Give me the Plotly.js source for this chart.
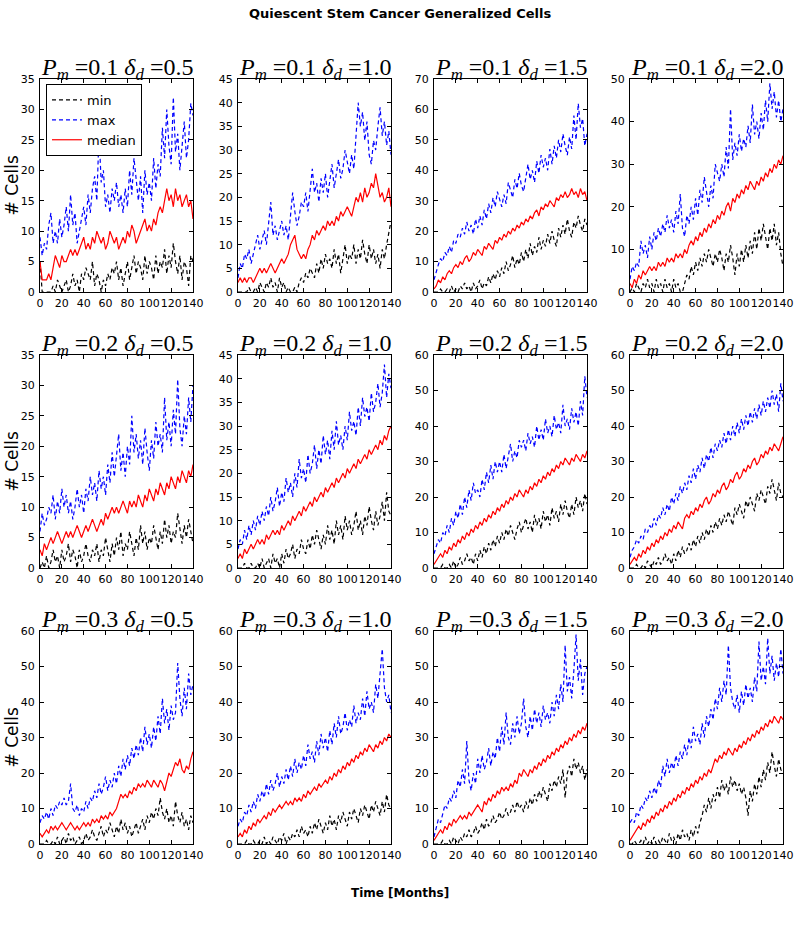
<!DOCTYPE html>
<html>
<head>
<meta charset="utf-8">
<script src="https://cdn.plot.ly/plotly-3.0.1.min.js"></script>
<style>html,body{margin:0;padding:0;background:#fff;}#chart{width:800px;height:932px;}</style>
</head>
<body>
<div id="chart"></div>
<script>
// Time axis (months)
const months = [0,2,4,6,8,10,12,14,16,18,20,22,24,26,28,30,32,34,36,38,40,42,44,46,48,50,52,54,56,58,60,62,64,66,68,70,72,74,76,78,80,82,84,86,88,90,92,94,96,98,100,102,104,106,108,110,112,114,116,118,120,122,124,126,128,130,132,134,136,138,140];
const xTickVals = [0,20,40,60,80,100,120,140];
const pmLabels = ['0.1','0.2','0.3'];
const ddLabels = ['0.5','1.0','1.5','2.0'];
const seriesNames = ['min','max','median'];

// Row 1: Pm = 0.1
const min_01_05 = [5,0,0,0,0,0,1,0,2,1, 0,1,2,0,1,3,1,2,0,3, 2,4,3,2,5,1,3,2,0,2, 1,3,2,4,3,5,2,4,1,3, 5,2,4,6,3,5,4,2,6,3, 5,4,2,6,3,5,4,7,3,6, 4,8,5,3,6,2,5,4,1,6, 5];
const max_01_05 = [9,6,8,7,11,13,8,10,8,12, 9,11,14,10,16,11,13,8,10,12, 14,11,16,13,17,19,15,26,18,20, 14,16,13,17,15,18,14,16,13,17, 14,20,16,22,18,15,19,13,20,16, 18,15,22,17,21,19,27,22,30,24, 21,32,23,26,20,24,28,22,25,31, 29];
const med_01_05 = [5,2,2,2,3,2,4,6,5,4, 6,5,5,6,7,6,7,6,7,8, 9,7,8,7,9,8,10,9,8,9, 7,8,10,9,8,9,7,8,9,8, 10,9,11,10,8,9,10,11,12,10, 11,10,12,11,13,14,13,15,17,15, 16,14,17,15,16,14,15,16,14,15, 12];

const min_01_10 = [0,0,0,0,0,1,0,0,1,0, 2,1,0,2,1,3,1,2,0,3, 1,2,0,1,0,0,1,0,2,3, 2,4,3,5,4,3,6,4,7,5, 8,6,7,5,9,6,8,4,7,10, 6,8,7,10,6,9,7,11,8,6, 10,7,9,6,8,5,9,7,10,13, 15];
const max_01_10 = [3,6,5,8,7,9,6,8,10,12, 9,11,13,10,14,19,12,14,11,13, 15,12,14,11,16,21,17,14,16,19, 18,21,17,22,26,21,23,19,24,21, 25,20,23,27,22,25,28,24,26,30, 27,25,29,26,33,40,35,38,32,36, 29,27,32,30,35,39,33,36,31,34, 29];
const med_01_10 = [2,3,2,3,2,3,3,2,3,4, 5,4,5,4,5,6,5,4,5,6, 7,6,7,8,10,11,12,9,8,7, 8,7,9,10,12,11,13,12,13,14, 13,15,14,15,14,16,15,17,16,17, 18,17,16,18,20,19,21,19,22,20, 21,23,22,25,22,20,21,19,20,22, 18];

const min_01_15 = [0,0,0,1,0,0,1,0,2,0, 1,0,2,1,3,1,2,0,3,1, 2,4,1,3,2,5,3,6,4,7, 5,8,6,10,7,9,12,8,11,9, 13,10,14,11,16,12,15,13,18,14, 17,15,19,16,20,17,15,21,18,22, 19,24,20,18,23,21,25,22,20,24, 22];
const max_01_15 = [4,7,9,11,10,13,12,15,13,17, 16,19,18,21,19,23,20,22,19,24, 21,25,22,27,24,29,26,31,28,33, 30,28,32,29,36,33,31,37,34,39, 35,33,38,42,37,40,36,43,39,45, 41,44,40,47,42,48,44,50,46,52, 48,45,51,47,58,50,62,54,57,48, 52];
const med_01_15 = [1,2,4,3,5,4,6,7,6,8, 9,8,10,9,11,12,10,11,13,12, 14,13,12,15,14,16,15,14,17,16, 18,17,19,18,20,19,21,20,22,21, 23,22,24,23,25,24,26,27,25,28, 27,29,28,30,29,28,31,30,32,31, 33,31,32,34,32,33,31,34,32,33, 30];

const min_01_20 = [0,1,0,2,1,0,2,1,3,1, 2,0,3,1,2,0,3,1,2,0, 3,1,2,0,0,2,4,3,6,4, 7,5,8,6,9,7,10,8,6,9, 7,10,8,5,9,7,11,8,4,9, 6,10,7,11,8,12,9,14,10,15, 12,16,13,10,15,12,16,11,14,9, 6];
const max_01_20 = [3,6,5,7,6,12,9,11,8,13, 10,14,12,15,13,16,14,18,15,17, 14,19,16,23,15,13,18,16,20,17, 22,18,24,21,27,23,20,25,22,30, 28,26,30,27,34,29,43,31,35,32, 37,33,36,34,39,35,44,37,40,36, 42,38,45,40,49,43,47,41,45,40, 43];
const med_01_20 = [2,1,3,2,4,3,5,4,5,6, 5,6,5,7,6,7,6,8,7,8, 7,9,8,9,8,10,9,11,12,11, 13,12,14,13,15,14,16,15,17,16, 18,17,19,18,20,21,19,22,21,23, 22,24,23,25,24,26,25,24,26,25, 27,26,28,27,29,28,30,29,31,30, 32];

// Row 2: Pm = 0.2
const min_02_05 = [0,1,0,2,0,1,3,1,2,0, 3,1,2,4,1,3,2,0,3,1, 2,4,2,1,3,2,4,1,3,2, 5,3,1,4,2,5,3,6,2,4, 3,6,4,2,5,3,7,4,6,3, 5,4,7,5,3,6,4,8,5,7, 4,6,5,9,6,4,7,5,8,6, 4];
const max_02_05 = [6,9,7,8,10,9,12,8,11,9, 13,10,12,9,11,8,10,13,10,12, 9,13,11,15,12,14,11,16,13,15, 12,17,14,19,15,18,22,16,19,15, 20,17,25,19,22,18,21,17,23,19, 16,21,18,24,20,22,19,28,21,24, 20,26,22,31,23,20,25,22,28,24, 30];
const med_02_05 = [3,2,4,3,4,5,4,5,6,5, 4,5,6,5,6,5,6,7,6,5, 6,7,6,7,8,7,6,7,8,7, 9,8,9,10,9,10,9,10,11,10, 9,11,10,11,10,12,11,10,12,11, 13,12,11,13,12,14,13,12,14,13, 15,14,13,15,14,16,15,14,16,15, 17];

const min_02_10 = [0,0,0,1,0,0,1,0,0,1, 0,2,0,1,2,0,3,1,2,0, 3,1,4,2,3,5,2,4,3,6, 4,3,6,4,7,5,8,6,4,7, 5,9,6,8,5,10,7,9,6,11, 8,10,7,9,12,8,10,7,11,9, 13,10,8,12,9,11,14,10,16,12, 11];
const max_02_10 = [4,6,5,8,6,9,7,10,8,11, 9,12,10,13,11,15,12,14,17,13, 16,14,19,16,18,15,20,17,23,19, 21,18,24,20,22,26,21,25,22,28, 24,27,23,29,25,31,26,28,25,30, 27,33,29,31,28,34,30,36,32,34, 31,37,33,35,39,34,37,43,36,41, 38];
const med_02_10 = [2,3,2,4,3,4,5,4,5,6, 5,6,5,7,6,7,8,7,8,7, 9,8,9,10,9,11,10,11,12,11, 13,12,13,14,13,15,14,15,16,15, 17,16,17,18,17,19,18,19,20,19, 21,20,21,22,21,23,22,23,24,23, 25,24,25,26,25,27,26,28,27,29, 30];

const min_02_15 = [0,0,0,0,1,0,0,1,0,2, 0,1,3,1,2,4,2,3,1,4, 2,5,3,6,4,7,5,8,6,9, 7,10,8,11,9,12,10,8,11,13, 10,12,14,11,13,10,15,12,14,11, 16,13,15,12,17,14,16,13,18,15, 19,16,14,18,15,20,17,19,16,21, 18];
const max_02_15 = [4,6,8,7,10,9,12,10,14,12, 16,14,18,15,20,17,22,19,24,21, 22,20,25,22,27,24,29,25,30,27, 30,27,32,28,31,35,30,33,31,36, 34,36,33,38,35,37,34,40,36,39, 36,42,38,40,37,43,39,41,38,46, 40,42,39,45,41,44,40,47,43,54, 48];
const med_02_15 = [1,2,3,4,3,5,4,6,5,7, 6,8,7,9,8,10,9,11,10,12, 11,13,12,14,13,15,14,16,15,17, 16,18,17,19,18,20,19,21,20,22, 21,20,22,21,23,22,24,23,25,24, 26,25,27,26,28,27,29,28,30,29, 31,30,29,31,30,32,31,30,32,31, 33];

const min_02_20 = [0,0,0,1,0,0,1,0,2,1, 0,2,1,3,1,2,4,2,3,1, 4,2,5,3,6,4,5,7,5,8, 6,9,7,10,8,11,9,12,10,13, 11,14,12,15,13,16,14,12,17,15, 18,16,14,19,17,20,18,16,21,19, 22,20,18,23,21,25,22,19,24,21, 20];
const max_02_20 = [3,5,6,8,7,9,8,11,10,12, 11,14,12,15,14,17,15,18,16,20, 18,21,19,23,21,24,22,26,24,28, 25,29,27,31,28,32,30,34,31,35, 33,36,34,38,35,39,36,40,37,41, 38,42,39,43,40,44,41,45,42,46, 43,47,44,48,45,50,46,49,44,52, 47];
const med_02_20 = [1,2,3,2,4,3,5,4,6,5, 7,6,8,7,9,8,10,9,11,10, 12,11,13,12,11,14,15,14,16,15, 17,16,18,17,19,20,18,19,21,20, 22,21,23,24,22,23,25,24,26,27, 25,26,28,27,29,28,30,31,29,30, 32,31,33,32,34,33,35,34,33,35, 37];

// Row 3: Pm = 0.3
const min_03_05 = [0,0,0,1,0,0,1,0,2,0, 1,2,0,3,1,2,0,1,2,0, 1,3,1,2,4,2,1,3,5,2, 4,3,6,4,2,5,3,7,4,6, 3,5,2,4,6,3,5,7,4,8, 6,9,7,10,8,13,9,7,10,6, 8,5,12,8,6,9,5,7,4,8, 6];
const max_03_05 = [6,8,7,9,7,10,8,11,10,12, 11,13,11,12,17,10,9,11,8,10, 9,12,10,13,12,15,13,17,14,16, 19,15,18,16,20,17,22,19,24,21, 25,22,27,24,28,25,30,26,33,28, 31,27,33,29,36,31,41,34,38,32, 39,35,37,51,41,36,44,38,48,42, 45];
const med_03_05 = [3,2,3,4,3,5,4,5,4,5, 6,5,4,5,6,5,4,5,4,5, 6,5,6,5,7,6,7,6,8,7, 8,7,9,8,9,10,12,14,13,14, 13,15,14,16,15,17,16,17,16,18, 17,16,18,17,16,18,17,15,18,20, 19,21,23,22,24,21,20,22,21,24, 26];

const min_03_10 = [0,0,0,0,1,0,0,1,0,0, 1,0,2,0,1,0,2,1,0,2, 1,3,0,2,1,3,2,4,2,5, 3,4,2,5,3,6,4,7,5,3, 6,4,8,5,7,4,8,6,9,7, 5,9,7,10,8,6,10,8,11,9, 7,11,9,12,10,8,12,9,14,11, 10];
const max_03_10 = [5,7,6,9,8,11,9,12,10,14, 12,15,13,17,14,18,15,17,20,16, 19,17,21,18,22,19,24,20,23,21, 25,22,28,24,26,23,29,25,31,27, 30,26,32,28,34,30,36,31,33,37, 32,35,33,39,34,37,35,41,36,43, 38,40,37,45,41,48,55,44,40,42, 37];
const med_03_10 = [2,3,2,4,3,5,4,6,5,7, 6,7,8,7,9,8,10,9,10,11, 10,11,12,11,12,11,13,12,13,12, 14,13,15,14,15,16,15,17,16,17, 18,17,19,18,20,19,21,20,22,21, 23,22,24,23,25,24,26,25,27,26, 28,27,26,28,27,29,28,30,29,31, 30];

const min_03_15 = [0,0,0,0,1,0,0,1,0,2, 1,0,2,1,3,2,4,2,3,5, 3,4,6,4,7,5,6,8,6,7, 9,7,8,10,8,9,11,9,12,10, 11,9,12,10,13,11,14,12,15,13, 16,14,12,17,15,18,16,19,17,21, 13,20,22,19,24,21,23,20,22,18, 21];
const max_03_15 = [2,5,7,6,9,11,10,13,12,15, 13,18,16,21,17,29,18,15,20,17, 24,20,25,21,23,27,22,26,24,30, 26,33,28,37,30,28,34,30,36,31, 34,41,33,30,36,32,38,34,37,33, 39,35,37,34,40,36,42,38,45,40, 56,43,47,41,49,59,46,52,42,48, 50];
const med_03_15 = [1,2,3,4,3,5,4,6,5,7, 6,7,8,7,8,7,9,8,9,10, 11,10,9,12,11,13,12,14,13,15, 14,16,15,16,15,17,16,18,17,20, 19,21,20,19,21,20,22,21,23,22, 24,23,25,24,26,25,27,26,28,27, 29,28,30,29,31,30,32,31,33,32, 34];

const min_03_20 = [0,0,1,0,0,1,0,2,0,1, 0,2,0,1,0,2,1,0,3,1, 2,0,3,1,4,2,3,1,4,2, 5,3,6,8,11,9,13,10,14,12, 16,13,18,15,17,14,19,16,18,15, 17,14,16,13,8,15,12,17,14,19, 16,21,18,23,20,26,22,19,24,21, 20];
const max_03_20 = [6,7,6,9,8,11,10,13,12,15, 13,16,14,18,16,22,19,24,20,23, 21,25,22,26,24,28,25,30,27,33, 29,31,28,34,30,36,33,38,35,41, 38,44,40,46,42,56,44,40,38,42, 37,43,39,45,41,44,40,47,43,57, 46,50,45,58,48,53,46,51,47,55, 48];
const med_03_20 = [1,2,3,4,5,4,6,5,7,6, 8,7,9,8,10,9,11,10,12,11, 13,12,14,13,15,14,16,15,17,16, 18,17,19,18,20,19,21,20,22,24, 23,25,24,26,25,27,26,25,27,26, 28,27,29,28,30,29,31,30,32,31, 33,32,34,33,35,34,36,35,34,36, 35];

// Axis ranges
const yTop  = [[35,45,70,50],[35,45,60,60],[60,60,60,60]];
const yStep = [[5,5,10,10],[5,5,10,10],[10,10,10,10]];

const panels = [
  [[min_01_05,max_01_05,med_01_05],[min_01_10,max_01_10,med_01_10],[min_01_15,max_01_15,med_01_15],[min_01_20,max_01_20,med_01_20]],
  [[min_02_05,max_02_05,med_02_05],[min_02_10,max_02_10,med_02_10],[min_02_15,max_02_15,med_02_15],[min_02_20,max_02_20,med_02_20]],
  [[min_03_05,max_03_05,med_03_05],[min_03_10,max_03_10,med_03_10],[min_03_15,max_03_15,med_03_15],[min_03_20,max_03_20,med_03_20]]
];

// Layout geometry (pixels)
const W = 800, H = 932;
const colL = [40, 238, 434, 630];
const colW = 153;
const rowT = [79, 355, 631];
const rowH = 213;

const styles = [
  {color:'#000000', dash:'4px,3px'},
  {color:'#0000ff', dash:'4px,3px'},
  {color:'#ff0000', dash:'solid'}
];

const traces = [];
const layout = {
  width: W, height: H,
  margin: {l:0, r:0, t:0, b:0},
  paper_bgcolor: '#ffffff',
  plot_bgcolor: '#ffffff',
  font: {family: 'DejaVu Sans, sans-serif', color: '#000', size: 11},
  showlegend: true,
  legend: {
    x: 46/W, y: 1 - 84/H, xanchor: 'left', yanchor: 'top',
    bgcolor: '#ffffff', bordercolor: '#000000', borderwidth: 1,
    font: {family: 'DejaVu Sans, sans-serif', size: 13, color: '#000'},
    tracegroupgap: 0, itemwidth: 30
  },
  annotations: [],
  shapes: []
};

let k = 0;
for (let r = 0; r < 3; r++) {
  for (let c = 0; c < 4; c++) {
    k++;
    const xa = k === 1 ? 'x' : 'x' + k;
    const ya = k === 1 ? 'y' : 'y' + k;
    const xKey = k === 1 ? 'xaxis' : 'xaxis' + k;
    const yKey = k === 1 ? 'yaxis' : 'yaxis' + k;
    const set = panels[r][c];
    for (let s = 0; s < 3; s++) {
      const yv = set[s];
      traces.push({
        type: 'scatter', mode: 'lines',
        x: months.slice(0, yv.length), y: yv,
        xaxis: xa, yaxis: ya,
        name: seriesNames[s],
        showlegend: k === 1,
        line: {color: styles[s].color, width: 1.2, dash: styles[s].dash}
      });
    }
    const x0 = colL[c] / W, x1 = (colL[c] + colW) / W;
    const y1 = 1 - rowT[r] / H, y0 = 1 - (rowT[r] + rowH) / H;
    const common = {
      showgrid: false, zeroline: false, showline: true, mirror: 'ticks',
      linecolor: '#000', linewidth: 1, ticks: 'inside', ticklen: 4,
      tickcolor: '#000', tickwidth: 1, tickangle: 0, automargin: false,
      tickfont: {family: 'DejaVu Sans, sans-serif', size: 11, color: '#000'}
    };
    layout[xKey] = Object.assign({}, common, {
      domain: [x0, x1], range: [0, 140], tickvals: xTickVals,
      ticktext: xTickVals.map(String),
      anchor: ya, ticklabelstandoff: 1
    });
    layout[yKey] = Object.assign({}, common, {
      domain: [y0, y1], range: [0, yTop[r][c]], dtick: yStep[r][c], tick0: 0,
      anchor: xa, ticklabelstandoff: 2
    });
    layout.annotations.push({
      xref: 'paper', yref: 'paper', x: (x0 + x1) / 2, y: y1,
      xanchor: 'center', yanchor: 'bottom', yshift: -7, showarrow: false,
      text: '<i>P</i><sub><i>m</i></sub> =' + pmLabels[r] + ' <i>δ</i><sub><i>d</i></sub> =' + ddLabels[c],
      font: {family: 'Liberation Serif, DejaVu Serif, serif', size: 24, color: '#000'}
    });
  }
  layout.annotations.push({
    xref: 'paper', yref: 'paper', x: 11 / W, y: 1 - (rowT[r] + rowH / 2) / H,
    xanchor: 'center', yanchor: 'middle', showarrow: false, textangle: -90,
    text: '# Cells',
    font: {family: 'DejaVu Sans, sans-serif', size: 17, color: '#000'}
  });
}

layout.annotations.push({
  xref: 'paper', yref: 'paper', x: 0.5, y: 1 - 13 / H,
  xanchor: 'center', yanchor: 'middle', showarrow: false,
  text: '<b>Quiescent Stem Cancer Generalized Cells</b>',
  font: {family: 'DejaVu Sans, sans-serif', size: 13, color: '#000'}
});
layout.annotations.push({
  xref: 'paper', yref: 'paper', x: 0.5, y: 1 - 893 / H,
  xanchor: 'center', yanchor: 'middle', showarrow: false,
  text: '<b>Time [Months]</b>',
  font: {family: 'DejaVu Sans, sans-serif', size: 12, color: '#000'}
});

Plotly.newPlot('chart', traces, layout, {staticPlot: true, displayModeBar: false});
</script>
</body>
</html>
